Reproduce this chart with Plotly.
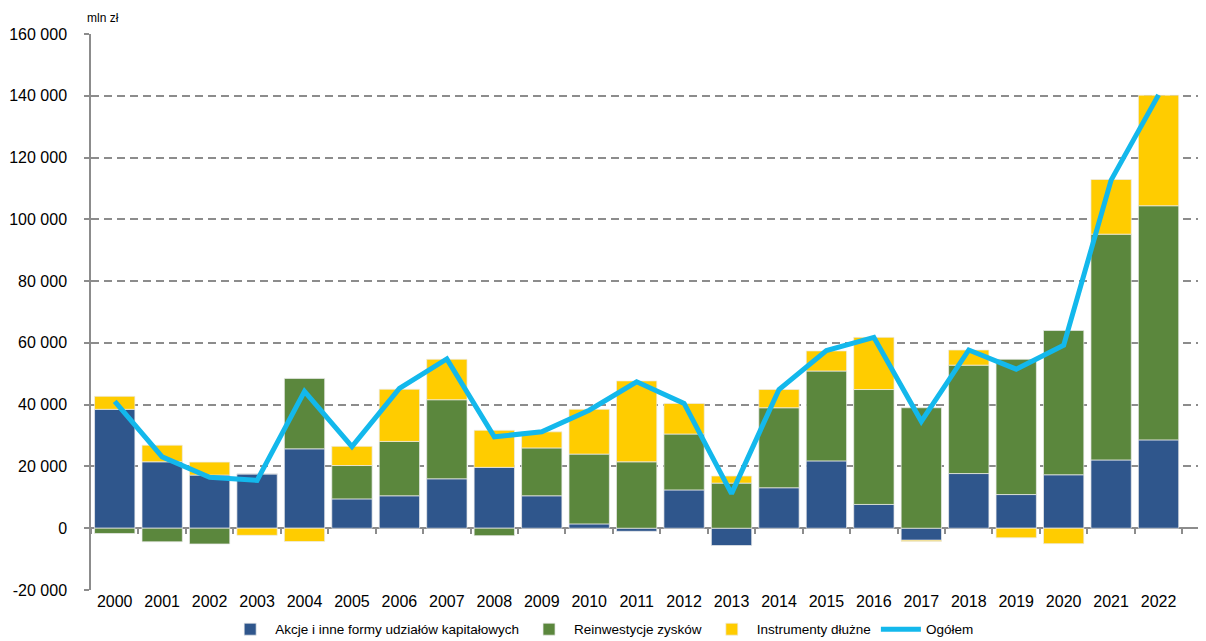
import plotly.graph_objects as go

years = [str(y) for y in range(2000, 2023)]
akcje = [38.5, 21.5, 17.2, 17.6, 25.7, 9.5, 10.5, 16.0, 19.7, 10.5, 1.4, -1.0, 12.4, -5.6,
         13.1, 21.8, 7.7, -3.9, 17.7, 10.9, 17.3, 22.1, 28.6]
reinwestycje = [-1.7, -4.4, -5.1, 0.0, 22.8, 10.8, 17.6, 25.6, -2.4, 15.5, 22.6, 21.5, 18.1, 14.6,
                25.9, 29.1, 37.2, 39.0, 35.1, 43.8, 46.7, 73.1, 75.8]
instrumenty = [4.2, 5.4, 4.2, -2.3, -4.3, 6.2, 16.9, 13.1, 12.0, 5.2, 14.5, 26.2, 9.9, 2.3,
               5.9, 6.5, 16.9, -0.4, 4.9, -3.1, -5.0, 17.7, 35.8]
ogolem = [41.1, 23.1, 16.5, 15.5, 44.3, 26.4, 45.3, 54.8, 29.6, 31.2, 38.2, 47.4, 40.4, 11.2,
          44.9, 57.5, 61.8, 34.6, 57.7, 51.5, 59.2, 112.7, 140.3]

akcje = [v * 1000 for v in akcje]
reinwestycje = [v * 1000 for v in reinwestycje]
instrumenty = [v * 1000 for v in instrumenty]
ogolem = [v * 1000 for v in ogolem]

ytick_vals = [-20000, 0, 20000, 40000, 60000, 80000, 100000, 120000, 140000, 160000]
ytick_text = ["-20 000", "0", "20 000", "40 000", "60 000", "80 000", "100 000",
              "120 000", "140 000", "160 000"]

FONT = "Liberation Sans, Arial, sans-serif"
border = dict(color="rgba(235,235,235,0.9)", width=0.8)

fig = go.Figure()
fig.add_trace(go.Bar(x=years, y=akcje, name="Akcje i inne formy udziałów kapitałowych",
                     marker=dict(color="#2F568C", line=border)))
fig.add_trace(go.Bar(x=years, y=reinwestycje, name="Reinwestycje zysków",
                     marker=dict(color="#5B873D", line=border)))
fig.add_trace(go.Bar(x=years, y=instrumenty, name="Instrumenty dłużne",
                     marker=dict(color="#FFCC00", line=border)))
fig.add_trace(go.Scatter(x=years, y=ogolem, name="Ogółem", mode="lines",
                         line=dict(color="#13B8EC", width=5), xaxis="x2"))

# the page body adds an 8px offset; size the figure to fit the 1206x641 window
fig.update_layout(
    width=1198, height=633,
    margin=dict(l=83, r=0, t=26, b=51, autoexpand=False),
    plot_bgcolor="white", paper_bgcolor="white",
    barmode="relative", bargap=0.15,
    font=dict(family=FONT, size=16, color="#000000"),
    showlegend=True,
    legend=dict(orientation="h", x=0.458, xanchor="center", y=-0.043, yanchor="top",
                font=dict(size=13.5, family=FONT), traceorder="normal",
                itemwidth=40, tracegroupgap=0, bgcolor="rgba(0,0,0,0)"),
    xaxis=dict(type="category", categoryorder="array", categoryarray=years,
               range=[-0.5, 23.0], showgrid=False, showline=False, ticks="",
               tickfont=dict(size=16, family=FONT), zeroline=False, automargin=False),
    xaxis2=dict(type="category", categoryorder="array", categoryarray=years,
                range=[-0.5, 23.0], overlaying="x", anchor="free",
                position=20000 / 180000, side="bottom", automargin=False,
                showgrid=False, showline=False, showticklabels=False,
                ticks="outside", tickson="boundaries", ticklen=5,
                tickcolor="#8c8c8c", tickwidth=1.5),
    yaxis=dict(range=[-20000, 160000], tickvals=ytick_vals, ticktext=ytick_text,
               automargin=False,
               showgrid=True, gridcolor="#8c8c8c", gridwidth=1.5, griddash="8px,5px",
               zeroline=True, zerolinecolor="#8c8c8c", zerolinewidth=1.5,
               showline=True, linecolor="#8c8c8c", linewidth=1.5,
               ticks="outside", ticklen=5, tickcolor="#8c8c8c", tickwidth=1.5,
               ticklabelstandoff=14,
               tickfont=dict(size=16, family=FONT)),
    annotations=[dict(text="mln zł", xref="paper", yref="paper", x=-0.005, y=1.029,
                      xanchor="left", yanchor="middle", showarrow=False,
                      font=dict(size=12, family=FONT))],
)

fig.write_html("out.html")
